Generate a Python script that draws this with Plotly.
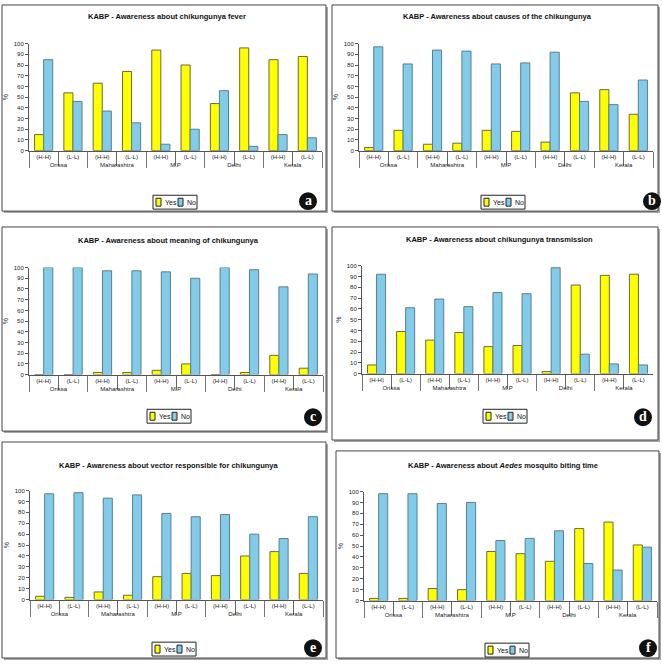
import plotly.graph_objects as go

W, H = 662, 664

states = ["Orissa", "Orissa", "Maharashtra", "Maharashtra", "M.P", "M.P",
          "Delhi", "Delhi", "Kerala", "Kerala"]
areas = ["(H-H)", "(L-L)"] * 5

titles = [
    "<b>KABP - Awareness about chikungunya fever</b>",
    "<b>KABP - Awareness about causes of the chikungunya</b>",
    "<b>KABP - Awareness about meaning of chikungunya</b>",
    "<b>KABP - Awareness about chikungunya transmission</b>",
    "<b>KABP - Awareness about vector responsible for chikungunya</b>",
    "<b>KABP - Awareness about <i>Aedes</i> mosquito biting time</b>",
]
letters = ["a", "b", "c", "d", "e", "f"]

# Yes / No per panel
yes_a = [15, 54, 63, 74, 94, 80, 44, 96, 85, 88]
no_a = [85, 46, 37, 26, 6, 20, 56, 4, 15, 12]
yes_b = [3, 19, 6, 7, 19, 18, 8, 54, 57, 34]
no_b = [97, 81, 94, 93, 81, 82, 92, 46, 43, 66]
yes_c = [0, 0, 2, 2, 4, 10, 0, 2, 18, 6]
no_c = [100, 100, 97, 97, 96, 90, 100, 98, 82, 94]
yes_d = [8, 39, 31, 38, 25, 26, 2, 82, 91, 92]
no_d = [92, 61, 69, 62, 75, 74, 98, 18, 9, 8]
yes_e = [3, 2, 7, 4, 21, 24, 22, 40, 44, 24]
no_e = [97, 98, 93, 96, 79, 76, 78, 60, 56, 76]
yes_f = [2, 2, 11, 10, 45, 43, 36, 66, 72, 51]
no_f = [98, 98, 89, 90, 55, 57, 64, 34, 28, 49]

yes_all = [yes_a, yes_b, yes_c, yes_d, yes_e, yes_f]
no_all = [no_a, no_b, no_c, no_d, no_e, no_f]

# layout in pixels
boxes = [(2, 2, 326, 210), (332, 2, 658, 210), (2, 226, 326, 432),
         (332, 226, 658, 441), (2, 443, 326, 661), (336, 452, 659, 661)]
plots = [(29, 41, 322, 149), (359, 41, 653, 149), (29, 267, 323, 375),
         (362, 265, 653, 374), (30, 492, 323, 602), (364, 493, 657, 603)]
title_y = [14, 14, 240, 239, 467, 467]
legend_pos = [(175, 201), (503, 201), (169, 417), (505, 417), (174, 652), (507, 653)]
circle_pos = [(308, 200), (652, 200), (313, 418), (643, 418), (313, 651), (648, 651)]


def X(px):
    return px / W


def Y(py):
    return 1 - py / H


FONT = "Liberation Sans Narrow, Liberation Sans, Arial, sans-serif"
YELLOW = "#ffff00"
BLUE = "#82ccea"
YEL_LINE = "#6b6b3a"
BLUE_LINE = "#5a7f90"

fig = go.Figure()
shapes = []
annotations = []
layout = {}


def rect(x0, y0, x1, y1, **kw):
    return dict(type="rect", xref="paper", yref="paper",
                x0=X(x0), x1=X(x1), y0=Y(y1), y1=Y(y0), **kw)


def label(text, x, y, size, anchor="center", color="#111", family=FONT):
    return dict(text=text, xref="paper", yref="paper", x=X(x), y=Y(y),
                xanchor=anchor, yanchor="middle", showarrow=False,
                font=dict(size=size, family=family, color=color))


for i in range(6):
    n = "" if i == 0 else str(i + 1)
    fig.add_trace(go.Bar(x=[states, areas], y=yes_all[i], name="Yes",
                         marker=dict(color=YELLOW, line=dict(color=YEL_LINE, width=1)),
                         xaxis="x" + n, yaxis="y" + n, showlegend=False))
    fig.add_trace(go.Bar(x=[states, areas], y=no_all[i], name="No",
                         marker=dict(color=BLUE, line=dict(color=BLUE_LINE, width=1)),
                         xaxis="x" + n, yaxis="y" + n, showlegend=False))

    px0, py0, px1, py1 = plots[i]
    layout["xaxis" + n] = dict(
        type="multicategory", domain=[X(px0), X(px1)], anchor="y" + n,
        showline=True, linecolor="#555", mirror=False,
        ticks="outside", ticklen=14, tickcolor="#666",
        showdividers=True, dividercolor="#777", dividerwidth=1,
        tickfont=dict(size=6, family=FONT, color="#222"),
    )
    layout["yaxis" + n] = dict(
        domain=[Y(py1), Y(py0)], anchor="x" + n, range=[0, 100], dtick=10,
        showgrid=False, zeroline=False, showline=True, linecolor="#555",
        ticks="outside", ticklen=3, tickcolor="#555",
        tickfont=dict(size=6, family=FONT, color="#222"),
        title=dict(text="%", font=dict(size=7, family=FONT), standoff=4),
    )
    # light frame on top/right of plot area
    shapes.append(rect(px0, py0, px1, py1, line=dict(color="#b5b5b5", width=1), layer="below"))

    # panel box with grey shadow
    bx0, by0, bx1, by1 = boxes[i]
    shapes.insert(0, rect(bx0 + 2, by0 + 2, bx1 + 2, by1 + 2,
                          fillcolor="#a8a8a8", line=dict(width=0), layer="below"))
    shapes.append(rect(bx0, by0, bx1, by1, fillcolor="white",
                       line=dict(color="#444", width=1), layer="below"))

    annotations.append(label(titles[i], (px0 + px1) / 2 - 8, title_y[i], 7.5))

    # panel letter
    cx, cy = circle_pos[i]
    shapes.append(dict(type="circle", xref="paper", yref="paper",
                       x0=X(cx - 9), x1=X(cx + 9), y0=Y(cy + 9), y1=Y(cy - 9),
                       fillcolor="#111", line=dict(width=0)))
    annotations.append(label("<b>" + letters[i] + "</b>", cx, cy - 1, 14,
                             color="white", family="Liberation Serif, serif"))

    # small boxed legend
    lx, ly = legend_pos[i]
    shapes.append(rect(lx - 22, ly - 7, lx + 22, ly + 7, fillcolor="white",
                       line=dict(color="#222", width=1)))
    shapes.append(rect(lx - 19, ly - 4, lx - 14, ly + 4, fillcolor=YELLOW,
                       line=dict(color="#222", width=1)))
    annotations.append(label("Yes", lx - 12, ly, 7, anchor="left"))
    shapes.append(rect(lx + 3, ly - 4, lx + 8, ly + 4, fillcolor=BLUE,
                       line=dict(color="#222", width=1)))
    annotations.append(label("No", lx + 10, ly, 7, anchor="left"))

fig.update_layout(
    width=W, height=H, margin=dict(l=0, r=0, t=0, b=0),
    paper_bgcolor="white", plot_bgcolor="rgba(0,0,0,0)",
    barmode="group", bargap=0.38, bargroupgap=0,
    shapes=shapes, annotations=annotations,
    font=dict(family=FONT), showlegend=False,
    **layout,
)

fig.write_html("out.html", config={"displayModeBar": False},
               post_script="document.body.style.margin='0px';")
